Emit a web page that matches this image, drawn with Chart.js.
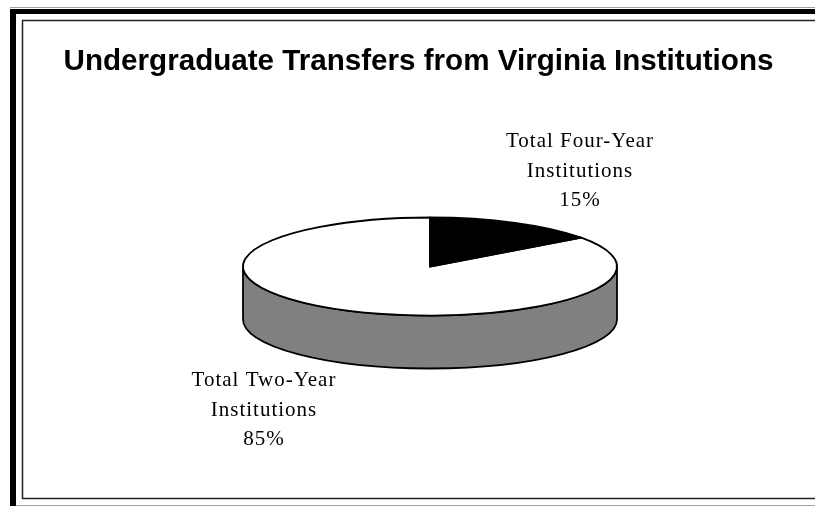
<!DOCTYPE html>
<html>
<head>
<meta charset="utf-8">
<script src="https://cdn.jsdelivr.net/npm/chart.js@4.4.7/dist/chart.umd.min.js"></script>
<style>
  html, body { margin: 0; padding: 0; background: #fff; }
  #wrap { width: 815px; height: 506px; position: relative; }
</style>
</head>
<body>
<div id="wrap"><canvas id="chart"></canvas></div>
<script>
const chartTitle = 'Undergraduate Transfers from Virginia Institutions';
const categories = ['Total Four-Year Institutions', 'Total Two-Year Institutions'];
const categoryLines = [['Total Four-Year', 'Institutions'], ['Total Two-Year', 'Institutions']];
const shares = [15, 85];

// frame + title drawn behind the pie
const framePlugin = {
  id: 'frame',
  beforeDraw(chart, args, opts) {
    const ctx = chart.ctx;
    ctx.save();
    ctx.fillStyle = '#fff';
    ctx.fillRect(0, 0, chart.width, chart.height);
    // light outer lines
    ctx.strokeStyle = '#a0a0a0';
    ctx.lineWidth = 1;
    ctx.beginPath();
    ctx.moveTo(10, 7.5); ctx.lineTo(chart.width, 7.5);
    ctx.moveTo(16, 505.5); ctx.lineTo(chart.width, 505.5);
    ctx.stroke();
    // heavy top/left border
    ctx.fillStyle = '#000';
    ctx.fillRect(10, 9, chart.width - 10, 5);
    ctx.fillRect(10, 9, 6, chart.height - 9);
    // inner thin box
    ctx.strokeStyle = '#222';
    ctx.lineWidth = 1.5;
    ctx.beginPath();
    ctx.moveTo(chart.width, 20.5); ctx.lineTo(22.5, 20.5);
    ctx.lineTo(22.5, 498.5); ctx.lineTo(chart.width, 498.5);
    ctx.stroke();
    // title
    ctx.fillStyle = '#000';
    ctx.font = 'bold 29.6px "Liberation Sans", Arial, sans-serif';
    ctx.textAlign = 'center';
    ctx.textBaseline = 'alphabetic';
    ctx.fillText(opts.text, 418.5, 70);
    ctx.restore();
  }
};

// squashes the pie into a tilted disc and adds the side wall
const pie3dPlugin = {
  id: 'pie3d',
  beforeDatasetsDraw(chart, args, opts) {
    const ctx = chart.ctx;
    const arcs = chart.getDatasetMeta(0).data;
    const cx = arcs[0].x, cy = arcs[0].y, rx = arcs[0].outerRadius;
    const ry = rx * opts.tilt, d = opts.depth;
    ctx.save();
    ctx.strokeStyle = '#000';
    ctx.lineWidth = opts.lineWidth;
    arcs.forEach((arc, i) => {
      const s = arc.startAngle, e = arc.endAngle;
      for (let k = -1; k <= 1; k++) {
        const lo = Math.max(s, k * 2 * Math.PI);
        const hi = Math.min(e, k * 2 * Math.PI + Math.PI);
        if (hi <= lo) continue;
        ctx.beginPath();
        ctx.ellipse(cx, cy, rx, ry, 0, lo, hi);
        ctx.ellipse(cx, cy + d, rx, ry, 0, hi, lo, true);
        ctx.closePath();
        ctx.fillStyle = opts.sideColors[i];
        ctx.fill();
        ctx.stroke();
      }
    });
    ctx.restore();
    ctx.save();
    ctx.translate(cx, cy);
    ctx.scale(1, opts.tilt);
    ctx.translate(-cx, -cy);
  },
  afterDatasetsDraw(chart, args, opts) {
    const ctx = chart.ctx;
    ctx.restore();
    const arcs = chart.getDatasetMeta(0).data;
    const cx = arcs[0].x, cy = arcs[0].y, rx = arcs[0].outerRadius;
    const ry = rx * opts.tilt;
    ctx.save();
    ctx.strokeStyle = '#000';
    ctx.lineWidth = opts.lineWidth;
    ctx.lineJoin = 'round';
    arcs.forEach(arc => {
      ctx.beginPath();
      ctx.moveTo(cx, cy);
      ctx.ellipse(cx, cy, rx, ry, 0, arc.startAngle, arc.endAngle);
      ctx.closePath();
      ctx.stroke();
    });
    ctx.restore();

    // category labels with percentages
    const values = chart.data.datasets[0].data;
    const total = values.reduce((a, b) => a + b, 0);
    ctx.save();
    ctx.fillStyle = '#000';
    ctx.font = '21px "Liberation Serif", "Times New Roman", serif';
    ctx.letterSpacing = '1px';
    ctx.textAlign = 'center';
    values.forEach((v, i) => {
      const pos = opts.labelPos[i];
      const lines = categoryLines[i].concat([Math.round(v / total * 100) + '%']);
      lines.forEach((t, j) => ctx.fillText(t, pos.x, pos.y + j * opts.lineGap));
    });
    ctx.restore();
  }
};

new Chart(document.getElementById('chart'), {
  type: 'pie',
  data: {
    labels: categories,
    datasets: [{
      data: shares,
      backgroundColor: ['#000000', '#ffffff'],
      borderWidth: 0
    }]
  },
  options: {
    responsive: true,
    maintainAspectRatio: false,
    animation: false,
    layout: { padding: { left: 243, right: 198, top: 79.5, bottom: 52.5 } },
    plugins: {
      legend: { display: false },
      tooltip: { enabled: false },
      title: { display: false },
      frame: { text: chartTitle },
      pie3d: {
        tilt: 49 / 187,
        depth: 53,
        lineWidth: 1.8,
        sideColors: ['#000000', '#808080'],
        labelPos: [{ x: 580, y: 147 }, { x: 264, y: 386 }],
        lineGap: 29.5
      }
    }
  },
  plugins: [framePlugin, pie3dPlugin]
});
</script>
</body>
</html>
